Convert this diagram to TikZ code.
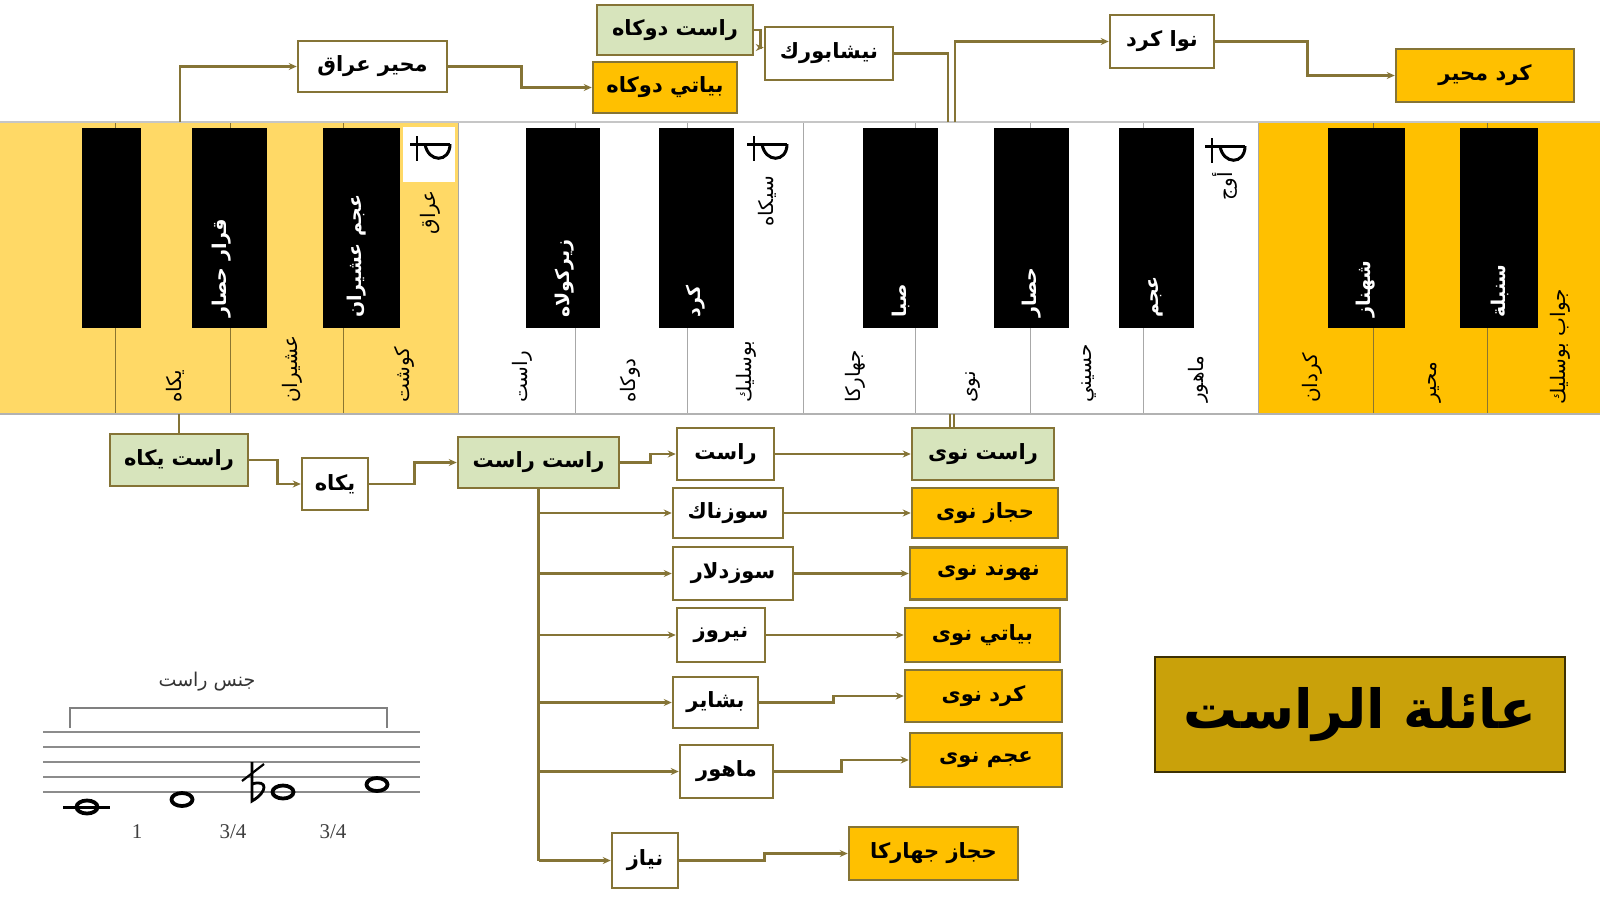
\documentclass[tikz,border=0pt]{standalone}
\usepackage{fontspec}
\usetikzlibrary{arrows.meta,calc}
\TeXXeTstate=1
\newfontfamily\arf[Script=Arabic]{DejaVu Sans}
\newfontfamily\tnr{Liberation Serif}
\newcommand\AR[1]{{\arf\beginR #1\endR}}
\definecolor{lc}{HTML}{857436}
\definecolor{grn}{HTML}{D7E4BC}
\definecolor{org}{HTML}{FFC000}
\definecolor{ylw}{HTML}{FFD966}
\definecolor{ttl}{HTML}{C9A10A}
\definecolor{kdiv}{HTML}{8B7530}
\definecolor{gdiv}{HTML}{A8A8A8}
\tikzset{
  mbox/.style={draw=lc, line width=2.5pt, fill=white, inner sep=0pt,
    font=\arf\bfseries\fontsize{21}{24}\selectfont},
  gbox/.style={mbox, fill=grn},
  obox/.style={mbox, fill=org},
  conn/.style={draw=lc, line width=2.5pt},
  arr/.style={conn, -{Stealth[length=8pt,width=7pt]}},
  wlab/.style={rotate=90, anchor=west, inner sep=0pt, font=\arf\fontsize{20}{23}\selectfont},
  blab/.style={rotate=90, anchor=west, inner sep=0pt, text=white, font=\arf\bfseries\fontsize{19}{22}\selectfont},
  tlab/.style={rotate=90, anchor=east, inner sep=0pt, font=\arf\fontsize{20}{23}\selectfont},
  halfflat/.pic={
    \draw[line width=3pt] (-20,-6) -- (20,-6);
    \draw[line width=3pt] (20,-6) .. controls (20,13) and (-2,13) .. (-5,-6);
    \draw[line width=2.4pt] (-13,-14) -- (-13,11);
  }
}
\begin{document}
\begin{tikzpicture}[x=1pt,y=-1pt]
\useasboundingbox (0,0) rectangle (1600,900);
\fill[white] (0,0) rectangle (1600,900);

% ---------------- keyboard ----------------
\fill[ylw] (0,122) rectangle (458,414);
\fill[white] (458,122) rectangle (1258,414);
\fill[org] (1258,122) rectangle (1600,414);
\foreach \x in {115,230,343,1373,1487} \draw[kdiv, line width=1pt] (\x,122) -- (\x,414);
\foreach \x in {458,575,687,803,915,1030,1143,1258} \draw[gdiv, line width=1pt] (\x,122) -- (\x,414);
\draw[gray!45, line width=2pt] (0,122) -- (1600,122);
\draw[gray!60, line width=1.5pt] (0,414) -- (1600,414);
\foreach \a/\b in {82/141,192/267,323/400,526/600,659/734,863/938,994/1069,1119/1194,1328/1405,1460/1538}
  \fill[black] (\a,128) rectangle (\b,328);
\fill[white] (403,127) rectangle (455,182);
\pic at (430,150) {halfflat};
\pic at (767,150) {halfflat};
\pic at (1225,152) {halfflat};

% white key labels
\node[wlab] (w1) at (175,403) {\AR{يكاه}};
\node[wlab] (w2) at (292,403) {\AR{عشيران}};
\node[wlab] (w3) at (404,403) {\AR{كوشت}};
\node[wlab] (w4) at (522,403) {\AR{راست}};
\node[wlab] (w5) at (630,403) {\AR{دوكاه}};
\node[wlab] (w6) at (746,403) {\AR{بوسليك}};
\node[wlab] (w7) at (855,403) {\AR{جهاركا}};
\node[wlab] (w8) at (973,403) {\AR{نوى}};
\node[wlab] (w9) at (1089,403) {\AR{حسيني}};
\node[wlab] (w10) at (1198,403) {\AR{ماهور}};
\node[wlab] (w11) at (1312,403) {\AR{كردان}};
\node[wlab] (w12) at (1435,403) {\AR{محير}};
\node[wlab] (w13) at (1560,405) {\AR{جواب بوسليك}};
% black key labels
\node[blab] (b1) at (222,318) {\AR{قرار حصار}};
\node[blab] (b2) at (357,318) {\AR{عجم عشيران}};
\node[blab] (b3) at (565,318) {\AR{زيركولاه}};
\node[blab] (b4) at (696,318) {\AR{كرد}};
\node[blab] (b5) at (901,318) {\AR{صبا}};
\node[blab] (b6) at (1032,318) {\AR{حصار}};
\node[blab] (b7) at (1156,318) {\AR{عجم}};
\node[blab] (b8) at (1366,318) {\AR{شهناز}};
\node[blab] (b9) at (1500,318) {\AR{سنبلة}};
% top labels
\node[tlab] (t1) at (430,190) {\AR{عراق}};
\node[tlab] (t2) at (767,176) {\AR{سيكاه}};
\node[tlab] (t3) at (1225,172) {\AR{أوج}};

% keyboard connection points
\coordinate (k1) at (180,122);
\coordinate (k2) at (948,122);
\coordinate (k3) at (955,122);
\coordinate (k4) at (179,414);
\coordinate (k5) at (950,414);
\coordinate (k6) at (954,414);

% ---------------- upper boxes ----------------
\node[mbox, minimum width=149pt, minimum height=51pt] (mihiraq) at (372.5,66.5) {\AR{محير عراق}};
\node[gbox, minimum width=156pt, minimum height=50pt] (rastdukah) at (675,30) {\AR{راست دوكاه}};
\node[obox, minimum width=144pt, minimum height=51pt] (bayatidukah) at (665,87.5) {\AR{بياتي دوكاه}};
\node[mbox, minimum width=128pt, minimum height=53pt] (nishabur) at (829,53.5) {\AR{نيشابورك}};
\node[mbox, minimum width=104pt, minimum height=53pt] (nawakurd) at (1162,41.5) {\AR{نوا كرد}};
\node[obox, minimum width=178pt, minimum height=53pt] (kurdmuh) at (1485,75.5) {\AR{كرد محير}};

\draw[arr] (k1) |- (mihiraq.west);
\draw[arr] (mihiraq.east) -- ++(73,0) |- (bayatidukah.west);
\draw[arr] (rastdukah.east) -- ++(6,0) |- ($(nishabur.west)+(0,-6)$);
\draw[conn] (nishabur.east) -| (k2);
\draw[arr] (k3) |- (nawakurd.west);
\draw[arr] (nawakurd.east) -- ++(92,0) |- (kurdmuh.west);

% ---------------- lower boxes ----------------
\node[gbox, minimum width=138pt, minimum height=52pt] (rastyakah) at (179,460) {\AR{راست يكاه}};
\node[mbox, minimum width=66pt, minimum height=52pt] (yakah) at (335,484) {\AR{يكاه}};
\node[gbox, minimum width=161pt, minimum height=51pt] (rastrast) at (538.5,462.5) {\AR{راست راست}};
\node[mbox, minimum width=97pt, minimum height=52pt] (rast) at (725.5,454) {\AR{راست}};
\node[gbox, minimum width=142pt, minimum height=52pt] (rastnawa) at (983,454) {\AR{راست نوى}};
\node[mbox, minimum width=110pt, minimum height=50pt] (suznak) at (728,513) {\AR{سوزناك}};
\node[obox, minimum width=146pt, minimum height=50pt] (hijaznawa) at (985,513) {\AR{حجاز نوى}};
\node[mbox, minimum width=120pt, minimum height=53pt] (suzdilar) at (733,573.5) {\AR{سوزدلار}};
\node[obox, minimum width=157pt, minimum height=52pt] (nahawandnawa) at (988.5,573.5) {\AR{نهوند نوى}};
\node[mbox, minimum width=88pt, minimum height=54pt] (nayruz) at (721,635) {\AR{نيروز}};
\node[obox, minimum width=155pt, minimum height=54pt] (bayatinawa) at (982.5,635) {\AR{بياتي نوى}};
\node[mbox, minimum width=85pt, minimum height=51pt] (bashayir) at (715.5,702.5) {\AR{بشاير}};
\node[obox, minimum width=157pt, minimum height=52pt] (kurdnawa) at (983.5,696) {\AR{كرد نوى}};
\node[mbox, minimum width=93pt, minimum height=53pt] (mahur) at (726.5,771.5) {\AR{ماهور}};
\node[obox, minimum width=152pt, minimum height=54pt] (ajamnawa) at (986,760) {\AR{عجم نوى}};
\node[mbox, minimum width=66pt, minimum height=55pt] (niyaz) at (645,860.5) {\AR{نياز}};
\node[obox, minimum width=169pt, minimum height=53pt] (hijazjah) at (933.5,853.5) {\AR{حجاز جهاركا}};

\draw[conn] (k4) -- (rastyakah.north);
\draw[arr] (rastyakah.east) -- ++(28,0) |- (yakah.west);
\draw[arr] (yakah.east) -- ++(45,0) |- (rastrast.west);
\draw[arr] (rastrast.east) -- ++(30,0) |- (rast.west);
\draw[arr] (rast.east) -- (rastnawa.west);
\draw[lc, line width=1.3pt] (k5) -- (k5 |- rastnawa.north);
\draw[lc, line width=1.3pt] (k6) -- (k6 |- rastnawa.north);

\coordinate (tr) at (rastrast.south);
\draw[conn] (tr) -- (tr |- niyaz.west);
\foreach \n in {suznak,suzdilar,nayruz,bashayir,mahur,niyaz}
  \draw[arr] (tr |- \n.west) -- (\n.west);
\draw[arr] (suznak.east) -- (hijaznawa.west);
\draw[arr] (suzdilar.east) -- (nahawandnawa.west);
\draw[arr] (nayruz.east) -- (bayatinawa.west);
\draw[arr] (bashayir.east) -- ++(74,0) |- (kurdnawa.west);
\draw[arr] (mahur.east) -- ++(67,0) |- (ajamnawa.west);
\draw[arr] (niyaz.east) -- ++(85,0) |- (hijazjah.west);

% ---------------- title ----------------
\node[draw=black!70!ttl, fill=ttl, line width=2pt, minimum width=410pt, minimum height=115pt,
  inner sep=0pt, font=\arf\bfseries\fontsize{54}{64}\selectfont] (title) at (1360,714.5) {\AR{عائلة الراست}};

% ---------------- staff ----------------
\node[font=\arf\fontsize{19}{22}\selectfont, text=black!80, inner sep=0pt] (jins) at (207,682) {\AR{جنس راست}};
\draw[gray, line width=1.5pt] (70,728) -- (70,708) -- (387,708) -- (387,728);
\foreach \y in {732,747,762,777,792} \draw[gray!90, line width=2.8pt] (43,\y) -- (420,\y);
\draw[black, line width=3pt] (63,807) -- (110,807);
\foreach \x/\y in {87/807,182/799.5,283/792,377/784.5}
  \draw[black, line width=3.8pt] (\x,\y) ellipse [x radius=10.5, y radius=6.5];
\draw[black, line width=2.8pt] (252,762) -- (252,801) .. controls (268,792) and (268,779) .. (252,784);
\draw[black, line width=2.2pt] (242,781) -- (264,764);
\node[font=\tnr\fontsize{21}{24}\selectfont, text=black!75, inner sep=0pt] (n1) at (137,832) {1};
\node[font=\tnr\fontsize{21}{24}\selectfont, text=black!75, inner sep=0pt] (n2) at (233,832) {3/4};
\node[font=\tnr\fontsize{21}{24}\selectfont, text=black!75, inner sep=0pt] (n3) at (333,832) {3/4};
\end{tikzpicture}
\end{document}
